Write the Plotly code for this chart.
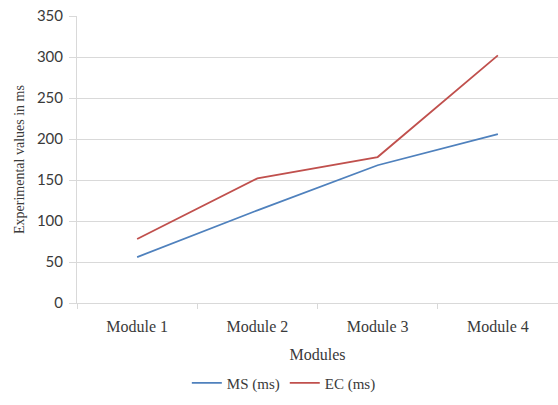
import plotly.graph_objects as go

categories = ["Module 1", "Module 2", "Module 3", "Module 4"]
ms_values = [56, 113, 168, 206]
ec_values = [78, 152, 178, 302]
y_ticks = [0, 50, 100, 150, 200, 250, 300, 350]

serif = "Liberation Serif"
txt = "#3a3a3a"
fig = go.Figure()
fig.add_trace(go.Scatter(x=categories, y=ms_values, mode="lines", name="MS (ms)",
                         line=dict(color="#4f81bd", width=1.8)))
fig.add_trace(go.Scatter(x=categories, y=ec_values, mode="lines", name="EC (ms)",
                         line=dict(color="#c0504d", width=1.8)))

fig.update_layout(
    width=558, height=405,
    margin=dict(l=77, r=0, t=16, b=102),
    paper_bgcolor="white", plot_bgcolor="white",
    font=dict(family=serif, size=15, color=txt),
    showlegend=True,
    legend=dict(orientation="h", x=0.43, xanchor="center", y=-0.222, yanchor="top",
                font=dict(family=serif, size=15, color=txt),
                itemwidth=30, tracegroupgap=0),
    xaxis=dict(type="category", range=[-0.5, 3.5], showgrid=False,
               showline=True, linecolor="#d9d9d9", linewidth=1,
               ticks="outside", tickson="boundaries", ticklen=5, tickcolor="#d9d9d9",
               ticklabelstandoff=9,
               tickfont=dict(family=serif, size=16, color=txt),
               title=dict(text="Modules", font=dict(family=serif, size=16, color=txt),
                          standoff=14)),
    yaxis=dict(range=[0, 350], tickvals=y_ticks, showgrid=True, gridcolor="#d9d9d9",
               gridwidth=1, zeroline=False, showline=True, linecolor="#d9d9d9",
               ticks="outside", ticklen=7, tickcolor="#d9d9d9",
               ticklabelstandoff=3,
               tickfont=dict(family="Lato", size=15, color=txt),
               title=dict(text="Experimental values in ms",
                          font=dict(family=serif, size=14, color=txt), standoff=8)),
)

fig.write_html("out.html")
